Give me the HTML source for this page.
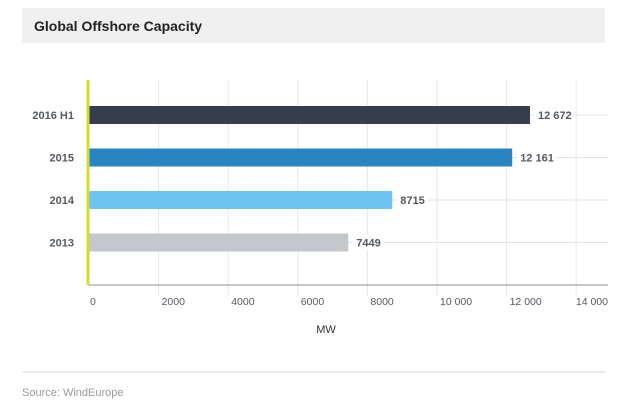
<!DOCTYPE html>
<html><head><meta charset="utf-8"><style>
body{margin:0;background:#fff;width:640px;height:404px;overflow:hidden;font-family:"Liberation Sans",sans-serif}
</style></head><body>
<svg width="640" height="404">
<rect x="22" y="8" width="583" height="35" fill="#f0f0f1"/>
<text x="34" y="31" font-size="14" font-weight="bold" fill="#222">Global Offshore Capacity</text>
<g id="plot"></g>
<line x1="22" y1="372" x2="605" y2="372" stroke="#ececec" stroke-width="2"/>
<text x="22" y="396" font-size="11" fill="#9a9a9a">Source: WindEurope</text>
</svg>
<script>
const categories=["2016 H1","2015","2014","2013"];
const values=[12672,12161,8715,7449];
const valueLabels=["12 672","12 161","8715","7449"];
const ticks=[0,2000,4000,6000,8000,10000,12000,14000];
const tickLabels=["0","2000","4000","6000","8000","10 000","12 000","14 000"];
const colors=["#363d4c","#2a84c2","#6cc4ef","#c4c7cc"];
const NS="http://www.w3.org/2000/svg";
const g=document.getElementById('plot');
const x0=89,k=0.0348;
const xs=v=>x0+v*k;
const yc=i=>115+i*42.5;
function mk(t,a){const e=document.createElementNS(NS,t);for(const n in a)e.setAttribute(n,a[n]);g.appendChild(e);return e;}
ticks.forEach((t,i)=>{
 if(i>0){const l=mk('line',{x1:xs(t),y1:80,x2:xs(t),y2:296,stroke:'#e6e8ea'});
 
 }
 const last=i==ticks.length-1;
 const tx=mk('text',{x:last?608:(i==0?xs(t)+1:xs(t)+3),y:305,'font-size':10.5,fill:'#555a60','text-anchor':last?'end':'start'});
 tx.textContent=tickLabels[i];
 
 
});
categories.forEach((c,i)=>{
 const y=yc(i);
 const gl=mk('line',{x1:x0,y1:y,x2:608,y2:y,stroke:'#e3e5e8'});
 
 
 const b=mk('rect',{x:x0,y:y-9,width:values[i]*k,height:18,fill:colors[i]});
 
 
 const bg=mk('rect',{x:xs(values[i])+5,y:y-7,width:10,height:14,fill:'#fff'});
 
 
 const vl=mk('text',{x:xs(values[i])+8,y:y+4,'font-size':11,'font-weight':'bold',fill:'#555a60'});
 vl.textContent=valueLabels[i];
 
 
 bg.setAttribute('width',vl.getComputedTextLength()+6);
 const cl=mk('text',{x:74,y:y+4,'font-size':11,'font-weight':'bold',fill:'#555a60','text-anchor':'end'});
 cl.textContent=c;
 
 
});
const ax=mk('line',{x1:x0,y1:285,x2:608,y2:285,stroke:'#8a9098'});


const ya=mk('line',{x1:x0-1,y1:80,x2:x0-1,y2:285,stroke:'#d4dc2a','stroke-width':3});


const mw=mk('text',{x:326,y:333,'font-size':11,fill:'#333','text-anchor':'middle'});
mw.textContent='MW';


</script>
</body></html>
